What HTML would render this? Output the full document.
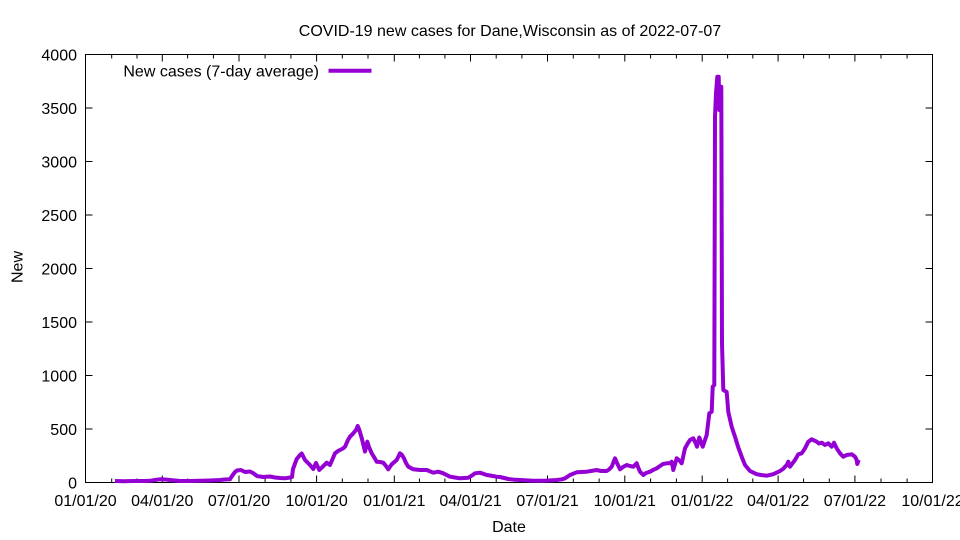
<!DOCTYPE html>
<html><head><meta charset="utf-8"><style>
html,body{margin:0;padding:0;background:#fff;}
svg{display:block;}
text{font-family:"Liberation Sans",Arial,sans-serif;font-size:16px;fill:#000;}
</style></head><body>
<svg width="960" height="540" viewBox="0 0 960 540" xmlns="http://www.w3.org/2000/svg">
<rect width="960" height="540" fill="#fff"/>
<text x="510" y="36" text-anchor="middle">COVID-19 new cases for Dane,Wisconsin as of 2022-07-07</text>
<g stroke="#000" stroke-width="1" fill="none">
<rect x="85.5" y="54.5" width="847" height="428"/>
<path d="M85.5 429h7M932.5 429h-7M85.5 375.5h7M932.5 375.5h-7M85.5 322h7M932.5 322h-7M85.5 268.5h7M932.5 268.5h-7M85.5 215h7M932.5 215h-7M85.5 161.5h7M932.5 161.5h-7M85.5 108h7M932.5 108h-7"/>
<path id="xt" d=""/>
</g>
<g stroke="#000" stroke-width="1">
<!-- major x ticks every quarter: 85.5 + k*76.77 (approx) -->
<path d="M162.3 482.5v-7M162.3 54.5v7M239.0 482.5v-7M239.0 54.5v7M316.6 482.5v-7M316.6 54.5v7M394.3 482.5v-7M394.3 54.5v7M470.5 482.5v-7M470.5 54.5v7M547.5 482.5v-7M547.5 54.5v7M624.8 482.5v-7M624.8 54.5v7M702.2 482.5v-7M702.2 54.5v7M778.1 482.5v-7M778.1 54.5v7M854.9 482.5v-7M854.9 54.5v7"/>
<path d="M111.7 482.5v-4M111.7 54.5v4M137.0 482.5v-4M137.0 54.5v4M187.6 482.5v-4M187.6 54.5v4M213.4 482.5v-4M213.4 54.5v4M265.1 482.5v-4M265.1 54.5v4M290.9 482.5v-4M290.9 54.5v4M342.3 482.5v-4M342.3 54.5v4M368.0 482.5v-4M368.0 54.5v4M419.4 482.5v-4M419.4 54.5v4M444.9 482.5v-4M444.9 54.5v4M496.2 482.5v-4M496.2 54.5v4M521.9 482.5v-4M521.9 54.5v4M573.3 482.5v-4M573.3 54.5v4M599.1 482.5v-4M599.1 54.5v4M650.6 482.5v-4M650.6 54.5v4M676.4 482.5v-4M676.4 54.5v4M727.6 482.5v-4M727.6 54.5v4M752.8 482.5v-4M752.8 54.5v4M803.6 482.5v-4M803.6 54.5v4M829.3 482.5v-4M829.3 54.5v4M881.0 482.5v-4M881.0 54.5v4M907.1 482.5v-4M907.1 54.5v4"/>
</g>
<g text-anchor="end">
<text x="77" y="488.5">0</text>
<text x="77" y="435">500</text>
<text x="77" y="381.5">1000</text>
<text x="77" y="328">1500</text>
<text x="77" y="274.5">2000</text>
<text x="77" y="221">2500</text>
<text x="77" y="167.5">3000</text>
<text x="77" y="114">3500</text>
<text x="77" y="60.5">4000</text>
</g>
<g text-anchor="middle">
<text x="85.5" y="506">01/01/20</text>
<text x="162.3" y="506">04/01/20</text>
<text x="239.0" y="506">07/01/20</text>
<text x="316.6" y="506">10/01/20</text>
<text x="394.3" y="506">01/01/21</text>
<text x="470.5" y="506">04/01/21</text>
<text x="547.5" y="506">07/01/21</text>
<text x="624.8" y="506">10/01/21</text>
<text x="702.2" y="506">01/01/22</text>
<text x="778.1" y="506">04/01/22</text>
<text x="854.9" y="506">07/01/22</text>
<text x="932.5" y="506">10/01/22</text>
<text x="509" y="532">Date</text>
<text transform="translate(22.5,267) rotate(-90)">New</text>
</g>
<text x="319" y="76.5" text-anchor="end">New cases (7-day average)</text>
<line x1="328.5" y1="70.7" x2="371.5" y2="70.7" stroke="#9400D3" stroke-width="4"/>
<polyline fill="none" stroke="#9400D3" stroke-width="4" stroke-linejoin="round" points="115,481 125,481.2 135,481 145,481 150,480.8 155,480 160,479.3 165,479.5 170,480 175,480.5 180,481 190,481 200,480.8 210,480.5 220,480 225,479.5 230,479.3 232,476 235,472 237,470.5 241,470 245,472 250,471.5 253,473 257,476 263,477 270,476.5 275,477.5 280,478 285,478.3 290,477.5 292,477 293,469 296.7,459 300,455 301.7,453.5 303,456 305,460 308,463 310,465 313.3,469 316,463 319.3,470 322.7,466.7 326.7,462.7 330,465 333,458 335,453.3 338,451 340,450 343,448.5 345,446.7 348,440 350,436.7 353.3,433.3 356,430 357.7,426 359,429 361.7,438 365,451.5 367.3,441.7 369,447 371.7,453.3 374,457 376.7,461.7 380,462 383.3,462.7 386,466 388.3,469.3 391.7,464.3 396.7,460 400,453.3 402,455 404,458.3 406,463 408.3,466.7 413.3,469.3 420,470 426.7,470 433.3,472.7 438.3,471.7 443.3,473.3 450,476.7 455,477.5 460,478.3 468.3,477.7 472,475.5 475,473.3 480,472.7 486.7,475 490,475.5 496.7,476.7 500,477 508.3,479 515,479.8 520,480 533.3,480.7 545,480.7 556.7,480 562,479.3 565,478.3 570,475 576.7,472.3 581,472 586.7,471.7 591,471 596.7,470 601,471 606.7,471 609,469.5 611.7,466.7 615,458.3 617,463 620,469.3 623,467 626.7,465 630,466 633.3,466.7 636.7,463.3 638,467 640,471.7 643.3,475 646,473 650,471.7 653,470 656.7,468.3 660,466 663,464 666.7,463.3 670,463.3 671.7,461.7 673.3,470 676.7,458.3 680,461 681.7,463.3 685,448.3 688,443 690,440 693.3,438.3 696,444 697,446.7 699.3,437.5 702.7,446.7 706.7,435 709.3,413.3 711.7,411.7 712.7,386.7 714.3,385 715,116.7 716,93.3 717.3,76.7 718.7,76.7 719.3,110 720.3,86.7 721.3,86.7 722,343.3 723.3,390 726.7,392 728.3,412 731.7,426.7 735,436.7 738.3,447.5 741.7,456.7 745,465 750,471 756.7,474.2 761,475 766.7,475.7 773.3,474.2 780,471 783,469 786.7,465 788.3,461.7 790,466.7 795,460 798.3,454.3 801.7,453.3 805,448.3 808.3,441.7 811.7,439.3 816.7,441.7 819,443.5 821.7,442.7 825,445 828.3,443.3 831.7,446.7 834,442.7 836.7,448.3 840,453.3 843.3,456.7 846.7,455 851.7,454.3 855,456.7 856.7,460 857.3,464 858.7,460"/>
</svg>
</body></html>
